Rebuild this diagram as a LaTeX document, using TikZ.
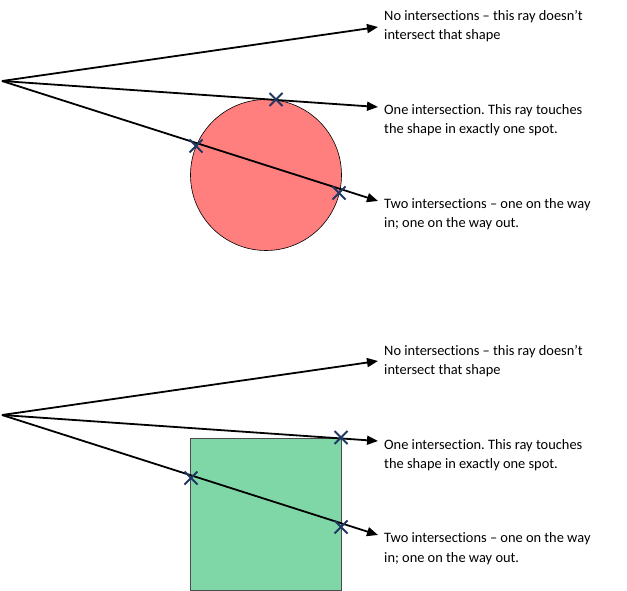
\documentclass[tikz,border=0pt]{standalone}
\usepackage{fontspec}
\setmainfont[Ligatures=NoCommon]{Carlito}
\frenchspacing
\usetikzlibrary{arrows.meta,calc}
\definecolor{circfill}{HTML}{FF7F7F}
\definecolor{sqfill}{HTML}{7FD7A7}
\definecolor{xcol}{HTML}{1F3864}
\tikzset{
  ray/.style={line width=1.8pt,-{Triangle[length=11pt,width=9pt]}},
  lbl/.style={anchor=base west,inner sep=0pt,font=\fontsize{14.4}{20}\selectfont},
  xmark/.style={draw=none,inner sep=0pt,minimum size=0pt},
}
\newcommand{\crossat}[1]{%
  \draw[xcol,line width=2pt] ($(#1)+(-6.5,-6.5)$) -- ($(#1)+(6.5,6.5)$) ($(#1)+(-6.5,6.5)$) -- ($(#1)+(6.5,-6.5)$);}
\begin{document}
\begin{tikzpicture}[x=1pt,y=-1pt]
\useasboundingbox (0,0) rectangle (627,591);
% ---------- top: circle ----------
\draw[fill=circfill,line width=0.6pt] (266,175) circle (75.5);
\coordinate (o1) at (2,81);
\coordinate (e1a) at (378,27);
\coordinate (e1b) at (378,107);
\coordinate (e1c) at (378,201);
\draw[ray] (o1) -- (e1a);
\draw[ray] (o1) -- (e1b);
\draw[ray] (o1) -- (e1c);
\node[xmark] (x1) at (276,99.5) {};
\node[xmark] (x2) at (196,146) {};
\node[xmark] (x3) at (339,193) {};
\crossat{x1}\crossat{x2}\crossat{x3}
\node[lbl] (t1a) at (384,21) {No intersections – this ray doesn’t};
\node[lbl] (t1a2) at (384,40) {intersect that shape};
\node[lbl] (t1b) at (384,115) {One intersection. This ray touches};
\node[lbl] (t1b2) at (384,134) {the shape in exactly one spot.};
\node[lbl] (t1c) at (384,208) {Two intersections – one on the way};
\node[lbl] (t1c2) at (384,228) {in; one on the way out.};
% ---------- bottom: square ----------
\draw[fill=sqfill,draw=black!70,line width=0.8pt] (190.5,438.5) rectangle (341.5,590);
\coordinate (o2) at (2,415);
\coordinate (e2a) at (378,361);
\coordinate (e2b) at (378,441);
\coordinate (e2c) at (378,535);
\draw[ray] (o2) -- (e2a);
\draw[ray] (o2) -- (e2b);
\draw[ray] (o2) -- (e2c);
\node[xmark] (y1) at (341,437.5) {};
\node[xmark] (y2) at (191,478) {};
\node[xmark] (y3) at (341,527) {};
\crossat{y1}\crossat{y2}\crossat{y3}
\node[lbl] (t2a) at (384,355) {No intersections – this ray doesn’t};
\node[lbl] (t2a2) at (384,374) {intersect that shape};
\node[lbl] (t2b) at (384,449) {One intersection. This ray touches};
\node[lbl] (t2b2) at (384,468) {the shape in exactly one spot.};
\node[lbl] (t2c) at (384,542) {Two intersections – one on the way};
\node[lbl] (t2c2) at (384,562) {in; one on the way out.};
\end{tikzpicture}
\end{document}
